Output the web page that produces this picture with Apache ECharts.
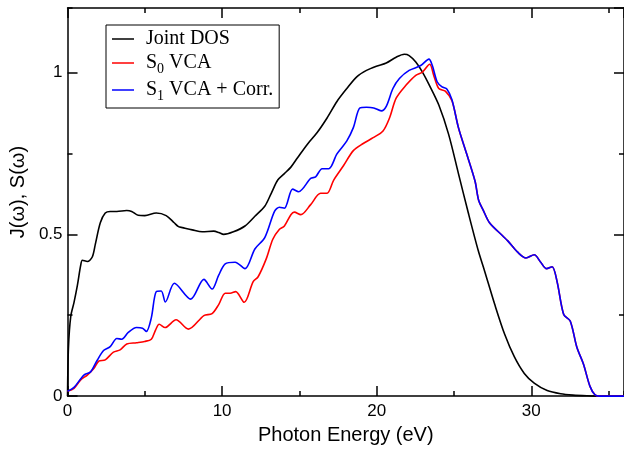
<!DOCTYPE html>
<html>
<head>
<meta charset="utf-8">
<script src="https://cdn.jsdelivr.net/npm/echarts@6/dist/echarts.min.js"></script>
<style>
  html, body { margin: 0; padding: 0; background: #fff; }
  #spectra { width: 624px; height: 450px; }
</style>
</head>
<body>
<div id="spectra"></div>
<script>
// Joint DOS (black)
var jdosE = [0, 0.06, 0.21, 0.42, 0.64, 0.85, 0.96, 1.28, 1.6, 1.8, 2.12, 2.44, 2.76, 3.19, 3.83, 4.15, 4.57, 5.0, 5.74, 6.38, 6.9, 7.18, 7.44, 8.07, 8.71, 9.46, 9.78, 10.1, 10.73, 11.48, 12.12, 12.76, 13.18, 13.6, 14.03, 14.45, 14.88, 15.52, 16.15, 16.79, 17.43, 18.07, 18.71, 19.34, 19.98, 20.62, 21.26, 21.79, 22.1, 22.53, 22.96, 23.38, 24.02, 24.65, 25.29, 25.93, 26.57, 27.0, 27.64, 28.28, 28.91, 29.55, 30.19, 31.03, 31.9, 32.7, 33.6, 34.5, 36];
var jdosVal = [0.0, 0.15, 0.247, 0.29, 0.343, 0.404, 0.42, 0.416, 0.43, 0.47, 0.536, 0.566, 0.571, 0.571, 0.574, 0.571, 0.559, 0.558, 0.566, 0.558, 0.536, 0.524, 0.521, 0.514, 0.508, 0.51, 0.506, 0.5, 0.508, 0.526, 0.556, 0.587, 0.627, 0.668, 0.688, 0.708, 0.737, 0.779, 0.815, 0.86, 0.911, 0.951, 0.987, 1.007, 1.02, 1.03, 1.048, 1.057, 1.053, 1.033, 1.002, 0.964, 0.9, 0.81, 0.688, 0.566, 0.45, 0.384, 0.283, 0.191, 0.121, 0.07, 0.04, 0.017, 0.007, 0.003, 0.001, 0, 0];

// S0 VCA (red), up to the shared high-energy tail
var s0E = [0, 0.42, 0.85, 1.28, 1.7, 2.02, 2.44, 2.97, 3.4, 3.83, 4.46, 4.99, 5.42, 5.7, 5.93, 6.31, 7.02, 7.82, 8.82, 9.35, 9.78, 10.2, 10.52, 10.88, 11.43, 12.01, 12.33, 12.86, 13.28, 13.71, 14.03, 14.45, 14.67, 15.09, 15.73, 16.37, 16.79, 17.22, 17.86, 18.49, 19.13, 19.77, 20.41, 20.83, 21.26, 21.89, 22.53, 22.96, 23.43, 23.7, 24.02, 24.44, 24.87];
var s0Val = [0.015, 0.024, 0.05, 0.065, 0.085, 0.108, 0.112, 0.136, 0.143, 0.161, 0.165, 0.169, 0.176, 0.205, 0.222, 0.212, 0.236, 0.207, 0.249, 0.255, 0.283, 0.318, 0.318, 0.323, 0.29, 0.354, 0.369, 0.425, 0.485, 0.516, 0.526, 0.561, 0.569, 0.561, 0.592, 0.627, 0.627, 0.668, 0.713, 0.759, 0.781, 0.799, 0.82, 0.86, 0.921, 0.961, 0.992, 1.002, 1.026, 0.99, 0.951, 0.943, 0.913];

// S1 VCA + Corr. (blue), up to the shared tail
var s1E = [0, 0.42, 1.06, 1.49, 1.91, 2.33, 2.76, 3.19, 3.51, 3.93, 4.46, 4.85, 5.1, 5.42, 5.74, 6.06, 6.33, 6.91, 7.97, 8.82, 9.35, 9.78, 10.2, 10.84, 11.48, 12.12, 12.76, 13.39, 13.71, 14.03, 14.56, 14.95, 15.73, 16.05, 16.47, 16.9, 17.43, 18.07, 18.49, 18.92, 19.34, 19.81, 20.3, 20.62, 21.05, 21.47, 22.1, 22.85, 23.38, 23.6, 23.91, 24.23, 24.55, 24.87];
var s1Val = [0.015, 0.027, 0.065, 0.075, 0.11, 0.141, 0.153, 0.178, 0.176, 0.197, 0.212, 0.21, 0.2, 0.242, 0.323, 0.325, 0.291, 0.349, 0.3, 0.361, 0.331, 0.374, 0.409, 0.414, 0.394, 0.455, 0.49, 0.571, 0.584, 0.581, 0.64, 0.632, 0.673, 0.678, 0.703, 0.703, 0.749, 0.789, 0.83, 0.891, 0.893, 0.891, 0.882, 0.896, 0.951, 0.982, 1.007, 1.022, 1.042, 1.022, 0.972, 0.956, 0.949, 0.916];

// both S curves coincide above ~25 eV
var tailE = [25.29, 25.82, 26.36, 26.6, 26.89, 27.3, 28.16, 28.48, 29.12, 29.66, 30.19, 30.61, 30.99, 31.35, 31.67, 32.1, 32.52, 32.95, 33.37, 33.8, 34.12, 34.4, 36];
var tailVal = [0.83, 0.749, 0.665, 0.605, 0.575, 0.536, 0.495, 0.48, 0.445, 0.427, 0.437, 0.414, 0.394, 0.4, 0.354, 0.252, 0.232, 0.151, 0.1, 0.03, 0.004, 0, 0];

var seriesNames = ['Joint DOS', 'S0 VCA', 'S1 VCA + Corr.'];
var seriesColors = ['#000000', '#ff0000', '#0000ff'];
var xTicks = { min: 0, max: 36, major: 10, minor: 5 };
var yTicks = { min: 0, max: 1.2, major: 0.5, minor: 0.25 };

function pairs(xs, ys) {
    return xs.map(function (x, i) { return [x, ys[i]]; });
}

var myChart = echarts.init(document.getElementById('spectra'));

var frame = { color: '#000', width: 1.5 };
var labelFont = { fontFamily: 'Liberation Sans', fontSize: 17, color: '#000' };

function xAxisDef(pos, step, len, withLabels) {
    return {
        type: 'value', position: pos, min: xTicks.min, max: xTicks.max, interval: step,
        axisLine: { show: len > 5, onZero: false, lineStyle: frame },
        axisTick: { show: true, inside: true, length: len, lineStyle: frame },
        axisLabel: { show: withLabels, showMaxLabel: false, margin: 7, fontFamily: labelFont.fontFamily, fontSize: labelFont.fontSize, color: '#000' },
        splitLine: { show: false }
    };
}
function yAxisDef(pos, step, len, withLabels) {
    return {
        type: 'value', position: pos, min: yTicks.min, max: yTicks.max, interval: step,
        axisLine: { show: len > 5, onZero: false, lineStyle: frame },
        axisTick: { show: true, inside: true, length: len, lineStyle: frame },
        axisLabel: { show: withLabels, showMaxLabel: false, margin: 5, fontFamily: labelFont.fontFamily, fontSize: labelFont.fontSize, color: '#000' },
        splitLine: { show: false }
    };
}

var xMain = xAxisDef('bottom', xTicks.major, 10, true);
xMain.name = 'Photon Energy (eV)';
xMain.nameLocation = 'middle';
xMain.nameGap = 21;
xMain.nameTextStyle = { fontFamily: 'Liberation Sans', fontSize: 20, color: '#000' };

var yMain = yAxisDef('left', yTicks.major, 10, true);
yMain.name = 'J(ω), S(ω)';
yMain.nameLocation = 'middle';
yMain.nameGap = 28;
yMain.nameTextStyle = { fontFamily: 'Liberation Sans', fontSize: 20, color: '#000', padding: [0, 0, 0, 20] };

var sub = { fontFamily: 'Liberation Serif', fontSize: 14, lineHeight: 14, padding: [12, 0, 0, 0], color: '#000' };
var big = { fontFamily: 'Liberation Serif', fontSize: 20, lineHeight: 22, color: '#000' };
var first = { fontFamily: 'Liberation Serif', fontSize: 20, lineHeight: 22, color: '#000', padding: [0, 0, 0, 7] };

option = {
    animation: false,
    backgroundColor: '#fff',
    grid: { left: 67, top: 8, width: 564.5, bottom: 47, containLabel: false },
    legend: {
        data: seriesNames,
        orient: 'vertical',
        left: 106,
        top: 25,
        padding: [4, 6, 5, 6],
        itemGap: 1,
        itemWidth: 22,
        itemHeight: 1.5,
        icon: 'rect',
        borderColor: '#000',
        borderWidth: 1,
        backgroundColor: '#fff',
        formatter: function (name) {
            if (name === 'S0 VCA') return '{f|S}{s|0}{b| VCA}';
            if (name === 'S1 VCA + Corr.') return '{f|S}{s|1}{b| VCA + Corr.}';
            return '{f|' + name + '}';
        },
        textStyle: { rich: { b: big, s: sub, f: first } }
    },
    xAxis: [
        xMain,
        xAxisDef('bottom', xTicks.minor, 5, false),
        xAxisDef('top', xTicks.major, 10, false),
        xAxisDef('top', xTicks.minor, 5, false)
    ],
    yAxis: [
        yMain,
        yAxisDef('left', yTicks.minor, 5, false),
        yAxisDef('right', yTicks.major, 10, false),
        yAxisDef('right', yTicks.minor, 5, false)
    ],
    series: [
        {
            name: seriesNames[0], type: 'line', smooth: 0.3, showSymbol: false,
            data: pairs(jdosE, jdosVal),
            itemStyle: { color: seriesColors[0] },
            lineStyle: { color: seriesColors[0], width: 1.6 }
        },
        {
            name: seriesNames[1], type: 'line', smooth: 0.3, showSymbol: false,
            data: pairs(s0E.concat(tailE), s0Val.concat(tailVal)),
            itemStyle: { color: seriesColors[1] },
            lineStyle: { color: seriesColors[1], width: 1.6 }
        },
        {
            name: seriesNames[2], type: 'line', smooth: 0.3, showSymbol: false,
            data: pairs(s1E.concat(tailE), s1Val.concat(tailVal)),
            itemStyle: { color: seriesColors[2] },
            lineStyle: { color: seriesColors[2], width: 1.6 }
        }
    ]
};
myChart.setOption(option);
</script>
</body>
</html>
